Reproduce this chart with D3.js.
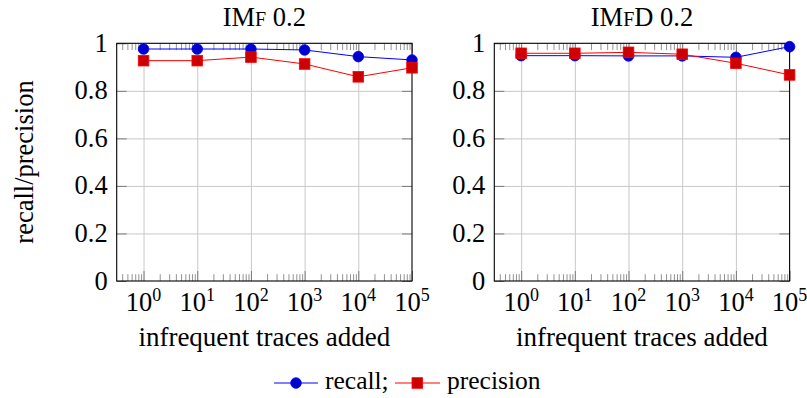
<!DOCTYPE html>
<html>
<head>
<meta charset="utf-8">
<script src="https://cdn.jsdelivr.net/npm/d3@7"></script>
<style>
  body { margin: 0; background: #fff; }
  svg { display: block; font-family: "Liberation Serif", "DejaVu Serif", serif; }
</style>
</head>
<body>
<svg id="chart" width="807" height="398"></svg>
<script>
// data
const traces = [1, 10, 100, 1000, 10000, 100000];
const imfRecall = [0.976, 0.976, 0.976, 0.972, 0.944, 0.930];
const imfPrecision = [0.927, 0.927, 0.942, 0.913, 0.859, 0.897];
const imfdRecall = [0.948, 0.948, 0.947, 0.947, 0.941, 0.986];
const imfdPrecision = [0.958, 0.958, 0.962, 0.954, 0.916, 0.867];
const xTicks = [1, 10, 100, 1000, 10000, 100000];
const yTicks = [0, 0.2, 0.4, 0.6, 0.8, 1];

const panels = [
  {title: [["IM", 26.5], ["F", 20], [" 0.2", 26.5]], recall: imfRecall, precision: imfPrecision, left: 116.7},
  {title: [["IM", 26.5], ["F", 20], ["D 0.2", 26.5]], recall: imfdRecall, precision: imfdPrecision, left: 494.3}
];

const W = 295.3, plotTop = 43.3, plotBottom = 281;
const fs = 26.5;
const majorLen = 10, minorLen = 6.8;

const svg = d3.select('#chart');

const minorTicks = [];
for (let e = -1; e < 5; e++) {
  for (let m = 2; m <= 9; m++) {
    const v = m * Math.pow(10, e);
    if (v >= Math.pow(10, -0.5) && v <= 1e5) minorTicks.push(v);
  }
}

function styleAxis(g, color, width) {
  g.select('.domain').remove();
  g.selectAll('.tick line').attr('stroke', color).attr('stroke-width', width);
  g.selectAll('.tick text').remove();
}

panels.forEach((p, i) => {
  const x = d3.scaleLog().domain([Math.pow(10, -0.5), 1e5]).range([p.left, p.left + W]);
  const y = d3.scaleLinear().domain([0, 1]).range([plotBottom, plotTop]);
  const g = svg.append('g');

  // grid
  g.append('g').attr('transform', `translate(0,${plotBottom})`)
    .call(d3.axisBottom(x).tickValues(xTicks.slice(0, 5)).tickSize(-(plotBottom - plotTop)))
    .call(a => styleAxis(a, '#c8c8c8', 1));
  g.append('g').attr('transform', `translate(${p.left},0)`)
    .call(d3.axisLeft(y).tickValues(yTicks.slice(1, 5)).tickSize(-W))
    .call(a => styleAxis(a, '#c8c8c8', 1));

  // minor x ticks, bottom and top
  g.append('g').attr('transform', `translate(0,${plotBottom})`)
    .call(d3.axisBottom(x).tickValues(minorTicks).tickSize(-minorLen))
    .call(a => styleAxis(a, '#777', 0.8));
  g.append('g').attr('transform', `translate(0,${plotTop})`)
    .call(d3.axisTop(x).tickValues(minorTicks).tickSize(-minorLen))
    .call(a => styleAxis(a, '#777', 0.8));
  // major ticks
  g.append('g').attr('transform', `translate(0,${plotBottom})`)
    .call(d3.axisBottom(x).tickValues(xTicks).tickSize(-majorLen))
    .call(a => styleAxis(a, '#666', 0.8));
  g.append('g').attr('transform', `translate(0,${plotTop})`)
    .call(d3.axisTop(x).tickValues(xTicks).tickSize(-majorLen))
    .call(a => styleAxis(a, '#666', 0.8));
  g.append('g').attr('transform', `translate(${p.left},0)`)
    .call(d3.axisLeft(y).tickValues(yTicks).tickSize(-majorLen))
    .call(a => styleAxis(a, '#666', 0.8));
  g.append('g').attr('transform', `translate(${p.left + W},0)`)
    .call(d3.axisRight(y).tickValues(yTicks).tickSize(-majorLen))
    .call(a => styleAxis(a, '#666', 0.8));

  // frame
  g.append('rect')
    .attr('x', p.left).attr('y', plotTop).attr('width', W).attr('height', plotBottom - plotTop)
    .attr('fill', 'none').attr('stroke', '#000').attr('stroke-width', 1.1);

  // y tick labels
  g.append('g').selectAll('text').data(yTicks).join('text')
    .attr('x', p.left - 9).attr('y', d => y(d) + 8.5)
    .attr('text-anchor', 'end').attr('font-size', fs)
    .text(d => d === 0 || d === 1 ? String(d) : d.toFixed(1));

  // x tick labels 10^k
  const xl = g.append('g').selectAll('text').data(xTicks).join('text')
    .attr('x', d => x(d)).attr('y', 311)
    .attr('text-anchor', 'middle').attr('font-size', fs);
  xl.append('tspan').text('10');
  xl.append('tspan').attr('font-size', 18).attr('dy', -10).text(d => Math.round(Math.log10(d)));

  // x label
  g.append('text').attr('x', p.left + W / 2).attr('y', 346)
    .attr('text-anchor', 'middle').attr('font-size', 27).text('infrequent traces added');

  // title
  const t = g.append('text').attr('x', p.left + W / 2).attr('y', 26)
    .attr('text-anchor', 'middle');
  p.title.forEach(([s, size]) => t.append('tspan').attr('font-size', size).text(s));

  // lines
  const line = vals => d3.line().x((d, k) => x(traces[k])).y(d => y(d))(vals);
  g.append('path').attr('d', line(p.recall)).attr('fill', 'none').attr('stroke', '#0000ff').attr('stroke-width', 1);
  g.selectAll('.rc').data(p.recall).join('circle')
    .attr('cx', (d, k) => x(traces[k])).attr('cy', d => y(d)).attr('r', 5.3)
    .attr('fill', '#0000cc').attr('stroke', '#0000ff').attr('stroke-width', 0.8);
  g.append('path').attr('d', line(p.precision)).attr('fill', 'none').attr('stroke', '#ff0000').attr('stroke-width', 1);
  g.selectAll('.pr').data(p.precision).join('rect')
    .attr('x', (d, k) => x(traces[k]) - 5.3).attr('y', d => y(d) - 5.3)
    .attr('width', 10.6).attr('height', 10.6)
    .attr('fill', '#cc0000').attr('stroke', '#ff0000').attr('stroke-width', 0.8);
});

// y axis label
svg.append('text').attr('transform', 'translate(33,162) rotate(-90)')
  .attr('text-anchor', 'middle').attr('font-size', fs).text('recall/precision');

// legend
const leg = svg.append('g');
leg.append('line').attr('x1', 274).attr('x2', 318).attr('y1', 383).attr('y2', 383).attr('stroke', '#0000ff');
leg.append('circle').attr('cx', 296).attr('cy', 383).attr('r', 5.3).attr('fill', '#0000cc').attr('stroke', '#0000ff').attr('stroke-width', 0.8);
leg.append('text').attr('x', 325).attr('y', 389).attr('font-size', 25.5).text('recall;');
leg.append('line').attr('x1', 395).attr('x2', 440).attr('y1', 383).attr('y2', 383).attr('stroke', '#ff0000');
leg.append('rect').attr('x', 412).attr('y', 377.7).attr('width', 10.6).attr('height', 10.6).attr('fill', '#cc0000').attr('stroke', '#ff0000').attr('stroke-width', 0.8);
leg.append('text').attr('x', 447).attr('y', 389).attr('font-size', 25.5).text('precision');
</script>
</body>
</html>
